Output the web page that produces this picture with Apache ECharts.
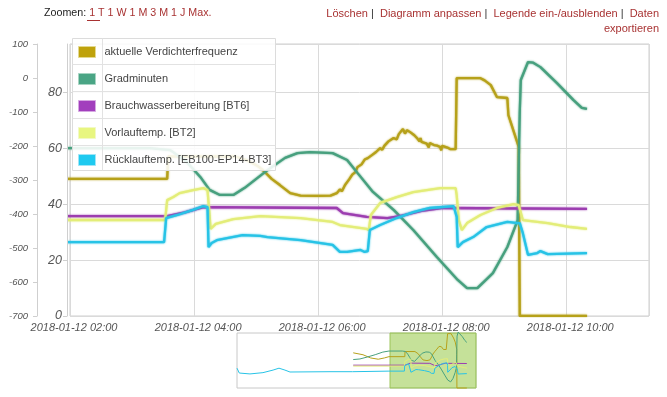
<!DOCTYPE html>
<html>
<head>
<meta charset="utf-8">
<title>Verlauf Wärmepumpe</title>
<script src="https://cdn.jsdelivr.net/npm/echarts@6/dist/echarts.min.js"></script>
</head>
<body style="margin:0;background:#fff">
<div id="chart" style="width:667px;height:397px"></div>
<script>
// Tag 1 = 2018-01-11 (nur im Navigator sichtbar), Tag 2 = 2018-01-12
const verdichterGestern = [['21:56', 55], ['23:00', 52], ['23:50', 47]];
const verdichter = [['00:40', 45], ['01:20', 47], ['01:50', 49], ['03:34', 49], ['03:35', 57], ['04:40', 57],
  ['04:52', 55.5], ['05:02', 53.5], ['05:07', 52], ['05:15', 49], ['05:23', 46.8], ['05:33', 43.9], ['05:43', 43],
  ['05:59', 42.9], ['06:12', 43], ['06:18', 43.9], ['06:21', 45.2], ['06:23', 44.6], ['06:26', 46.8], ['06:30', 48.8],
  ['06:33', 50.5], ['06:36', 51.4], ['06:38', 53.2], ['06:42', 54.2], ['06:45', 55.9], ['06:48', 56.4], ['06:52', 57.5],
  ['06:56', 58.6], ['07:00', 60], ['07:02', 59.4], ['07:04', 60.8], ['07:08', 62.4], ['07:13', 63.6], ['07:16', 63.1],
  ['07:18', 65], ['07:22', 66.8], ['07:24', 65.2], ['07:26', 66.4], ['07:29', 65.7], ['07:33', 64.6], ['07:36', 63.4],
  ['07:38', 62.4], ['07:39', 63.6], ['07:40', 62.2], ['07:45', 61.6], ['07:47', 60.2], ['07:48', 61.8], ['07:52', 61.1],
  ['07:55', 60.9], ['07:58', 60.4], ['07:59', 59.2], ['08:00', 60.8], ['08:05', 60.2], ['08:08', 59.6], ['08:13', 59.6],
  ['08:14', 85], ['08:37', 85], ['08:41', 84.2], ['08:47', 82.5], ['08:53', 78.2], ['09:03', 77.9], ['09:04', 71.8],
  ['09:14', 60.4], ['09:15', 0], ['10:20', 0]];

const gradminutenGestern = [['21:56', -320], ['22:40', -312], ['23:30', -285]];
const gradminuten = [['00:20', -255], ['01:10', -220], ['01:50', -206], ['03:17', -206], ['03:37', -212], ['03:53', -247],
  ['04:06', -291], ['04:15', -329], ['04:25', -344], ['04:38', -344], ['04:49', -323], ['05:11', -271], ['05:28', -235],
  ['05:40', -221], ['05:52', -218], ['06:14', -221], ['06:28', -241], ['06:38', -279], ['06:53', -335], ['07:13', -388],
  ['07:32', -447], ['07:55', -527], ['08:15', -594], ['08:24', -618], ['08:34', -618], ['08:49', -574], ['09:03', -497],
  ['09:13', -418], ['09:14', -250], ['09:15', -100], ['09:16', -6], ['09:23', 47], ['09:28', 45], ['09:35', 32],
  ['09:51', -15], ['10:07', -65], ['10:15', -88], ['10:20', -91]];

const brauchwasserGestern = [['21:56', 35.7]];
const brauchwasser = [['01:50', 35.7], ['03:34', 35.7], ['03:51', 37], ['04:09', 38.9], ['06:18', 38.6], ['06:24', 36.8],
  ['06:47', 35.4], ['07:07', 35], ['07:19', 35.7], ['07:42', 37.7], ['08:01', 38.6], ['10:20', 38.3]];

const vorlaufGestern = [['21:56', 34.3]];
const vorlauf = [['01:50', 34.3], ['03:32', 34.3], ['03:34', 41.4], ['03:40', 42.5], ['03:46', 43.9], ['03:59', 45],
  ['04:09', 45.7], ['04:13', 45], ['04:15', 36.1], ['04:16', 31.1], ['04:21', 32.9], ['04:38', 34.6], ['05:04', 35.7],
  ['05:43', 35], ['06:14', 33.6], ['06:21', 32.5], ['06:47', 31.1], ['06:49', 30.7], ['06:51', 36.1], ['07:00', 40.4],
  ['07:16', 42.5], ['07:32', 44.3], ['07:58', 45.7], ['08:13', 45.7], ['08:14', 43.2], ['08:16', 34.3], ['08:19', 30.7],
  ['08:24', 33.2], ['08:37', 36.1], ['08:53', 38.6], ['09:09', 40], ['09:14', 39.6], ['09:15', 38.9], ['09:18', 34.3],
  ['09:42', 33.2], ['10:04', 31.8], ['10:20', 31.1]];

const ruecklaufGestern = [['09:15', 31], ['09:30', 23.4], ['10:40', 22], ['12:05', 24], ['13:11', 28], ['13:50', 31],
  ['14:29', 28], ['15:02', 25], ['19:24', 25.5], ['21:52', 25.5], ['21:56', 27]];
const ruecklauf = [['01:50', 26.4], ['03:31', 26.4], ['03:33', 35], ['03:44', 36.1], ['03:59', 37.9], ['04:09', 39.3],
  ['04:13', 38.9], ['04:14', 24.6], ['04:17', 26.1], ['04:22', 27.1], ['04:47', 28.9], ['05:04', 28.6], ['05:11', 28.2],
  ['05:43', 27.1], ['06:14', 25.4], ['06:21', 22.9], ['06:28', 22.9], ['06:41', 23.6], ['06:45', 22.9], ['06:48', 23.2],
  ['06:50', 30.7], ['07:00', 32.5], ['07:16', 35], ['07:32', 37.1], ['07:48', 38.6], ['08:11', 39.3], ['08:14', 35.4],
  ['08:15', 24.6], ['08:20', 26.4], ['08:30', 28.2], ['08:43', 31.8], ['09:03', 33.6], ['09:13', 33.2], ['09:15', 33.2],
  ['09:18', 29.6], ['09:23', 21.8], ['09:32', 22.5], ['09:35', 23.2], ['09:42', 22.1], ['10:20', 22.5]];

const names = ['aktuelle Verdichterfrequenz', 'Gradminuten', 'Brauchwasserbereitung [BT6]',
  'Vorlauftemp. [BT2]', 'Rücklauftemp. [EB100-EP14-BT3]'];
const lineColors = ['#b6a11a', '#47a07e', '#9c3db0', '#e3ed78', '#27c3e6'];
const swatchColors = ['#bfa20c', '#4aa585', '#a23fbd', '#e8f680', '#1fcaf0'];
const swatchBorders = ['#e3d98f', '#a6d4c2', '#d6a8e2', '#f2f9c4', '#9fe5f6'];
const achse = [0, 1, 0, 0, 0];   // 0 = Temperatur/Frequenz, 1 = Gradminuten

// Ausschnitt Hauptdiagramm und Navigator
const ansichtVon = '2018-01-12 02:00', ansichtBis = '2018-01-12 11:20';
const navVon = '2018-01-11 09:15', navBis = '2018-01-12 11:20';
const schritt = 2 * 3600 * 1000;   // Zeitachse alle 2 Stunden

const ms = s => new Date(s.replace(' ', 'T') + ':00').getTime();
const stamp = (d, pts) => pts.map(p => [ms('2018-01-' + d + ' ' + p[0]), p[1]]);
const reihen = [
  stamp('11', verdichterGestern).concat(stamp('12', verdichter)),
  stamp('11', gradminutenGestern).concat(stamp('12', gradminuten)),
  stamp('11', brauchwasserGestern).concat(stamp('12', brauchwasser)),
  stamp('11', vorlaufGestern).concat(stamp('12', vorlauf)),
  stamp('11', ruecklaufGestern).concat(stamp('12', ruecklauf))
];

const pad = n => String(n).padStart(2, '0');
const fmtZeit = v => {
  const d = new Date(v);
  return d.getFullYear() + '-' + pad(d.getMonth() + 1) + '-' + pad(d.getDate()) + ' ' + pad(d.getHours()) + ':' + pad(d.getMinutes());
};

const FONT = 'Liberation Sans';
const LINK = '#a83232';

const chart = echarts.init(document.getElementById('chart'), null, { renderer: 'canvas' });

const series = [];
reihen.forEach((data, i) => {
  series.push({
    name: names[i], type: 'line', data: data,
    xAxisIndex: 0, yAxisIndex: achse[i],
    showSymbol: false, z: 2,
    lineStyle: { color: lineColors[i], width: 2.3, shadowColor: lineColors[i], shadowBlur: 2 },
    itemStyle: { color: swatchColors[i] }
  });
});
reihen.forEach((data, i) => {
  const s = {
    name: names[i], type: 'line', data: data,
    xAxisIndex: 1, yAxisIndex: 2 + achse[i],
    showSymbol: false, silent: true, clip: false,
    lineStyle: { color: lineColors[i], width: 1 },
    itemStyle: { color: swatchColors[i] }
  };
  if (i === 4) {
    s.markArea = {
      silent: true,
      itemStyle: { color: 'rgba(150,200,70,0.55)', borderColor: '#9cc65a', borderWidth: 1 },
      data: [[{ xAxis: ms('2018-01-12 01:57') }, { xAxis: ms(ansichtBis) }]]
    };
  }
  series.push(s);
});

const legendeBox = [
  { type: 'rect', z: 3, shape: { x: 72.5, y: 38.5, width: 203, height: 132 },
    style: { fill: 'rgba(255,255,255,0.88)', stroke: '#dcdcdc', lineWidth: 1 } },
  { type: 'line', z: 3, shape: { x1: 102.5, y1: 38.5, x2: 102.5, y2: 170.5 }, style: { stroke: '#e2e2e2' } }
];
[64.5, 91.5, 118.5, 145.5].forEach(y => legendeBox.push(
  { type: 'line', z: 3, shape: { x1: 72.5, y1: y, x2: 275.5, y2: y }, style: { stroke: '#e2e2e2' } }
));

const option = {
  animation: false,
  textStyle: { fontFamily: FONT },
  grid: [
    { left: 70, top: 44, right: 18, bottom: 81, show: true, borderColor: '#cfcfcf', borderWidth: 1 },
    { left: 237, top: 333, width: 239, height: 55, show: true, borderColor: '#c8c8c8', borderWidth: 1 }
  ],
  xAxis: [
    {
      type: 'value', gridIndex: 0, min: ms(ansichtVon), max: ms(ansichtBis), interval: schritt,
      axisLine: { show: false }, axisTick: { show: false },
      splitLine: { show: true, lineStyle: { color: '#dadada' } },
      axisLabel: {
        formatter: fmtZeit, showMaxLabel: false, padding: [0, 0, 0, 8],
        fontFamily: FONT, fontStyle: 'italic', fontSize: 11, color: '#555', margin: 6
      }
    },
    { type: 'time', gridIndex: 1, min: ms(navVon), max: ms(navBis), show: false }
  ],
  yAxis: [
    {
      type: 'value', gridIndex: 0, position: 'left', offset: 3, min: 0, max: 97.2, interval: 20,
      axisLine: { show: true, lineStyle: { color: '#cfcfcf' } },
      axisTick: { show: true, length: 4, lineStyle: { color: '#cfcfcf' } },
      splitLine: { show: true, lineStyle: { color: '#dadada' } },
      axisLabel: {
        showMaxLabel: false, margin: 5,
        fontFamily: FONT, fontStyle: 'italic', fontSize: 12.5, color: '#555'
      }
    },
    {
      type: 'value', gridIndex: 0, position: 'left', offset: 33, min: -700, max: 100, interval: 100,
      axisLine: { show: true, lineStyle: { color: '#cfcfcf' } },
      axisTick: { show: true, length: 4, lineStyle: { color: '#cfcfcf' } },
      splitLine: { show: false },
      axisLabel: { margin: 9, fontFamily: FONT, fontStyle: 'italic', fontSize: 9.5, color: '#555' }
    },
    { type: 'value', gridIndex: 1, min: 0, max: 86, show: false },
    { type: 'value', gridIndex: 1, min: -700, max: 35, show: false }
  ],
  legend: {
    orient: 'vertical', left: 78, top: 45, padding: 0,
    itemWidth: 17, itemHeight: 11, itemGap: 13, icon: 'rect',
    selectedMode: false,
    textStyle: { fontFamily: FONT, fontSize: 11, color: '#444', lineHeight: 14, padding: [0, 0, 0, 4] },
    data: names.map((n, i) => ({
      name: n, icon: 'rect',
      itemStyle: { color: swatchColors[i], borderColor: swatchBorders[i], borderWidth: 1 }
    }))
  },
  graphic: legendeBox.concat([
    {
      type: 'text', left: 44, top: 8, z: 5,
      style: {
        text: '{a|Zoomen: }{l|1 T}{l| 1 W 1 M 3 M 1 J Max.}',
        rich: {
          a: { fill: '#222', font: '10.7px "Liberation Sans"' },
          l: { fill: LINK, font: '10.7px "Liberation Sans"' }
        }
      }
    },
    { type: 'line', z: 5, shape: { x1: 87, y1: 20.5, x2: 100, y2: 20.5 }, style: { stroke: LINK, lineWidth: 1 } },
    {
      type: 'text', right: 8, top: 8, z: 5,
      style: {
        text: '{l|Löschen}{p| |  }{l|Diagramm anpassen}{p| |  }{l|Legende ein-/ausblenden}{p| |  }{l|Daten}',
        rich: {
          l: { fill: LINK, font: '11px "Liberation Sans"' },
          p: { fill: '#333', font: '11px "Liberation Sans"' }
        }
      }
    },
    {
      type: 'text', right: 8, top: 23, z: 5,
      style: { text: 'exportieren', fill: LINK, font: '11px "Liberation Sans"' }
    }
  ]),
  series: series
};

chart.setOption(option);
</script>
</body>
</html>
